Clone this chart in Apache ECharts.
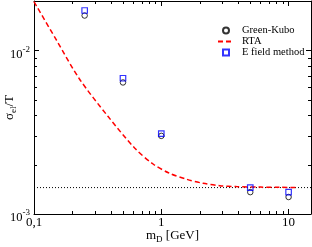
<!DOCTYPE html>
<html>
<head>
<meta charset="utf-8">
<script src="https://cdn.jsdelivr.net/npm/echarts@6/dist/echarts.min.js"></script>
<style>html,body{margin:0;padding:0;background:#fff}#c{width:312px;height:247px}</style>
</head>
<body>
<div id="c"></div>
<script>
// ---- data ----
const mD = [0.25, 0.5, 1, 5, 10];
const greenKubo = [0.0163, 0.00636, 0.0030, 0.00136, 0.00127];
const eField = [0.0175, 0.00675, 0.0031, 0.00145, 0.00136];
const rtaX = [0.1, 0.149, 0.227, 0.381, 0.62, 0.862, 1.166, 1.58, 2.13, 2.88, 3.89, 6, 8.5, 11.8];
const rtaY = [0.0198, 0.01165, 0.0067, 0.00395, 0.00252, 0.00202, 0.00177, 0.00163, 0.00154, 0.00149, 0.00147, 0.00146, 0.001455, 0.00145];
const asymptote = 0.00145;
const xMinorTicks = [0.2, 0.3, 0.4, 0.5, 0.6, 0.7, 0.8, 0.9, 2, 3, 4, 5, 6, 7, 8, 9];
const yMinorTicks = [0.002, 0.003, 0.004, 0.005, 0.006, 0.007, 0.008, 0.009];
const xRange = [0.1, 15];
const yRange = [0.001, 0.02];

const FONT = 'Liberation Serif';
const chart = echarts.init(document.getElementById('c'), null, {renderer: 'canvas'});

function isPow10(v) {
  const l = Math.log10(v);
  return Math.abs(l - Math.round(l)) < 1e-6;
}

function minorTickSeries(vals, dir) {
  return {
    type: 'custom', coordinateSystem: 'cartesian2d', silent: true, clip: false, z: 5,
    xAxisIndex: 0, yAxisIndex: 0,
    data: vals.map(v => dir === 'x' ? [v, yRange[0]] : [xRange[0], v]),
    renderItem: function (params, api) {
      const cs = params.coordSys;
      const p = api.coord([api.value(0), api.value(1)]);
      const L = 3;
      let segs;
      if (dir === 'x') {
        const x = Math.round(p[0]) + 0.5;
        segs = [[x, cs.y + cs.height, x, cs.y + cs.height - L], [x, cs.y, x, cs.y + L]];
      } else {
        const y = Math.round(p[1]) + 0.5;
        segs = [[cs.x, y, cs.x + L, y], [cs.x + cs.width, y, cs.x + cs.width - L, y]];
      }
      return {
        type: 'group',
        children: segs.map(s => ({
          type: 'line',
          shape: {x1: s[0], y1: s[1], x2: s[2], y2: s[3]},
          style: {stroke: '#000', lineWidth: 1}
        }))
      };
    }
  };
}

const axisCommon = {
  axisLine: {show: true, onZero: false, lineStyle: {color: '#000', width: 1}},
  axisTick: {show: true, inside: true, length: 5, lineStyle: {color: '#000'}},
  splitLine: {show: false},
  minorTick: {show: false},
  nameMoveOverlap: false
};

const SQUARE = 'path://M0,0H10V10H0Z';

const option = {
  animation: false,
  backgroundColor: '#fff',
  grid: {left: 34, right: 1, top: 1, bottom: 33, containLabel: false, outerBoundsMode: 'none'},
  legend: {
    orient: 'vertical', left: 212, top: 20,
    itemWidth: 16, itemHeight: 6, itemGap: 0, symbolKeepAspect: true,
    textStyle: {fontFamily: FONT, fontSize: 10.5, color: '#000', lineHeight: 9.5, padding: [0, 0, 0, 3]},
    data: [
      {name: 'Green-Kubo', icon: 'circle'},
      {name: 'RTA', itemStyle: {opacity: 0}},
      {name: 'E field method', icon: SQUARE}
    ]
  },
  xAxis: [
    Object.assign({}, axisCommon, {
      type: 'log', logBase: 10, min: xRange[0], max: xRange[1], position: 'bottom',
      name: '{a|m}{s|D}{a| [GeV]}', nameLocation: 'middle', nameGap: 14,
      nameTextStyle: {rich: {
        a: {fontFamily: FONT, fontSize: 13, color: '#000', lineHeight: 16},
        s: {fontFamily: FONT, fontSize: 9, color: '#000', verticalAlign: 'bottom', lineHeight: 12}
      }},
      axisLabel: {
        margin: 2, fontFamily: FONT, fontSize: 13, color: '#000',
        showMinLabel: true, showMaxLabel: false,
        formatter: function (v) {
          if (!isPow10(v)) return '';
          const e = Math.round(Math.log10(v));
          return Number(Math.pow(10, e).toFixed(Math.max(0, -e))).toString().replace('.', ',');
        }
      }
    }),
    Object.assign({}, axisCommon, {
      type: 'log', logBase: 10, min: xRange[0], max: xRange[1], position: 'top',
      axisLabel: {show: false}
    })
  ],
  yAxis: [
    Object.assign({}, axisCommon, {
      type: 'log', logBase: 10, min: yRange[0], max: yRange[1], position: 'left',
      name: '{a|σ}{s|el}{a|/T}', nameLocation: 'middle', nameGap: 16, nameRotate: 90,
      nameTextStyle: {rich: {
        a: {fontFamily: FONT, fontSize: 13, color: '#000', lineHeight: 16},
        s: {fontFamily: FONT, fontSize: 9, color: '#000', verticalAlign: 'bottom', lineHeight: 12}
      }},
      axisLabel: {
        margin: 4, showMaxLabel: false, showMinLabel: true,
        padding: [5, 0, 0, 0],
        formatter: function (v) {
          if (!isPow10(v)) return '';
          const e = Math.round(Math.log10(v));
          return '{b|10}{s|' + e + '}';
        },
        rich: {
          b: {fontFamily: FONT, fontSize: 12.5, color: '#000', lineHeight: 16, verticalAlign: 'bottom'},
          s: {fontFamily: FONT, fontSize: 9, color: '#000', lineHeight: 16, verticalAlign: 'top'}
        }
      }
    }),
    Object.assign({}, axisCommon, {
      type: 'log', logBase: 10, min: yRange[0], max: yRange[1], position: 'right',
      axisLabel: {show: false}
    })
  ],
  series: [
    {
      name: 'asymptote', type: 'line', data: xRange.map(x => [x, asymptote]),
      symbol: 'none', silent: true, z: 2,
      lineStyle: {color: '#000', width: 1, type: [1, 2]}
    },
    {
      name: 'RTA', type: 'line', data: rtaX.map((x, i) => [x, rtaY[i]]),
      smooth: 0.3, symbol: 'none', z: 3,
      lineStyle: {color: '#ff0000', width: 1.5, type: [5, 3]},
      itemStyle: {color: '#ff0000'}
    },
    {
      name: 'Green-Kubo', type: 'scatter', data: mD.map((x, i) => [x, greenKubo[i]]),
      symbol: 'circle', symbolSize: 5.5, z: 4,
      itemStyle: {color: 'rgba(0,0,0,0)', borderColor: '#000', borderWidth: 1}
    },
    {
      name: 'E field method', type: 'scatter', data: mD.map((x, i) => [x, eField[i]]),
      symbol: 'rect', symbolSize: 5.5, z: 4,
      itemStyle: {color: 'rgba(0,0,0,0)', borderColor: '#0000ff', borderWidth: 1.2}
    },
    minorTickSeries(xMinorTicks, 'x'),
    minorTickSeries(yMinorTicks, 'y')
  ]
};
chart.setOption(option);
</script>
</body>
</html>
